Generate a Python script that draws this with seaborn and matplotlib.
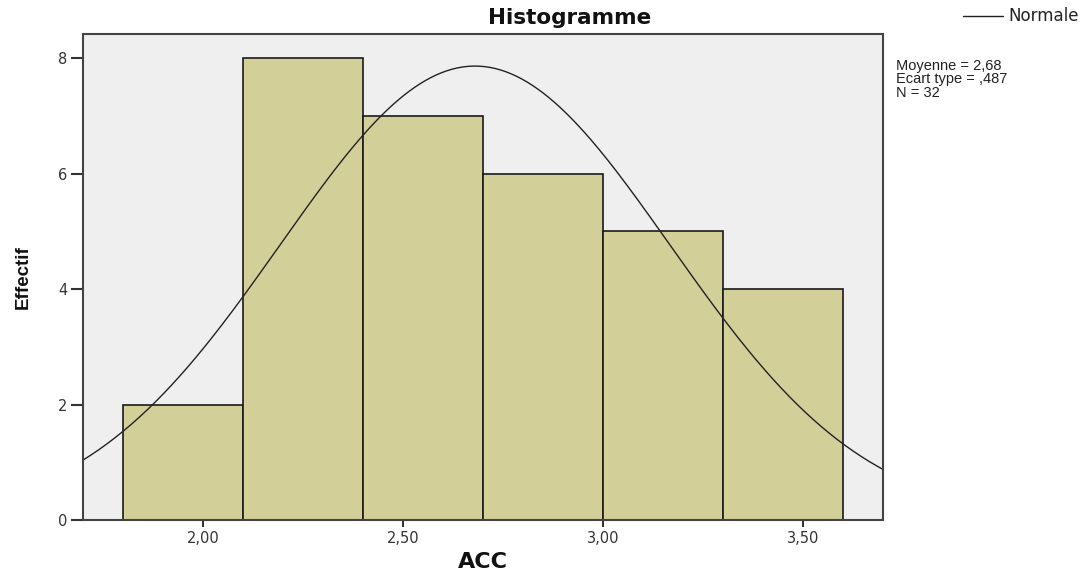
import numpy as np
import matplotlib
matplotlib.use("Agg")
import matplotlib.pyplot as plt
import seaborn as sns
from matplotlib.lines import Line2D

# --- data ---
bin_edges = [1.8, 2.1, 2.4, 2.7, 3.0, 3.3, 3.6]
counts = [2, 8, 7, 6, 5, 4]
mean_acc = 2.68
sd_acc = 0.487
n_obs = 32
x_ticks = [2.0, 2.5, 3.0, 3.5]
x_tick_labels = ["2,00", "2,50", "3,00", "3,50"]
y_ticks = [0, 2, 4, 6, 8]

sns.set_theme(style="white")
plt.rcParams['font.family'] = ['Liberation Sans', 'DejaVu Sans']

fig = plt.figure(figsize=(10.81, 5.78), dpi=100)
ax = fig.add_axes([0.0768, 0.1003, 0.7400, 0.8409])
ax.set_facecolor("#efefef")

centers = [(a + b) / 2 for a, b in zip(bin_edges[:-1], bin_edges[1:])]
sns.histplot(x=centers, weights=counts, bins=bin_edges, ax=ax,
             color="#d3cf98", alpha=1, edgecolor="#1a1a1a", linewidth=1.2)

# fitted normal curve (SPSS overlay), scaled to counts
bw = bin_edges[1] - bin_edges[0]
xs = np.linspace(1.7, 3.7, 300)
ys = n_obs * bw * np.exp(-0.5 * ((xs - mean_acc) / sd_acc) ** 2) / (sd_acc * np.sqrt(2 * np.pi))
sns.lineplot(x=xs, y=ys, ax=ax, color="#222222", linewidth=1.0)

ax.set_xlim(1.7, 3.7)
ax.set_ylim(0, 8.42)
ax.set_xticks(x_ticks)
ax.set_xticklabels(x_tick_labels, family="DejaVu Sans")
ax.set_yticks(y_ticks)
ax.set_yticklabels([str(v) for v in y_ticks], family="DejaVu Sans")
ax.tick_params(axis="both", direction="out", width=1.5, color="#333333",
               labelsize=10.5, labelcolor="#333333", bottom=True, left=True)
ax.tick_params(axis="y", length=9, pad=2)
ax.tick_params(axis="x", length=5, pad=3)
for s in ax.spines.values():
    s.set_color("#444444")
    s.set_linewidth(1.5)

ax.set_xlabel("ACC", fontsize=16, fontweight="bold", labelpad=4,
              family="DejaVu Sans", color="#111111")
ax.set_ylabel("Effectif", fontsize=13.5, fontweight="bold", labelpad=19,
              color="#111111")
fig.text(0.527, 0.968, "Histogramme", fontsize=15.5, fontweight="bold",
         family="DejaVu Sans", ha="center", va="center", color="#111111")

# legend line and stats
fig.add_artist(Line2D([0.891, 0.928], [0.972, 0.972], transform=fig.transFigure,
                      color="#222222", linewidth=1.0))
fig.text(0.998, 0.972, "Normale", fontsize=12, ha="right", va="center",
         family="DejaVu Sans", color="#222222")
fig.text(0.829, 0.898, "Moyenne = 2,68\nEcart type = ,487\nN = 32",
         fontsize=10.5, va="top", ha="left", linespacing=0.95, color="#222222")

fig.savefig("out.png", dpi=100)
